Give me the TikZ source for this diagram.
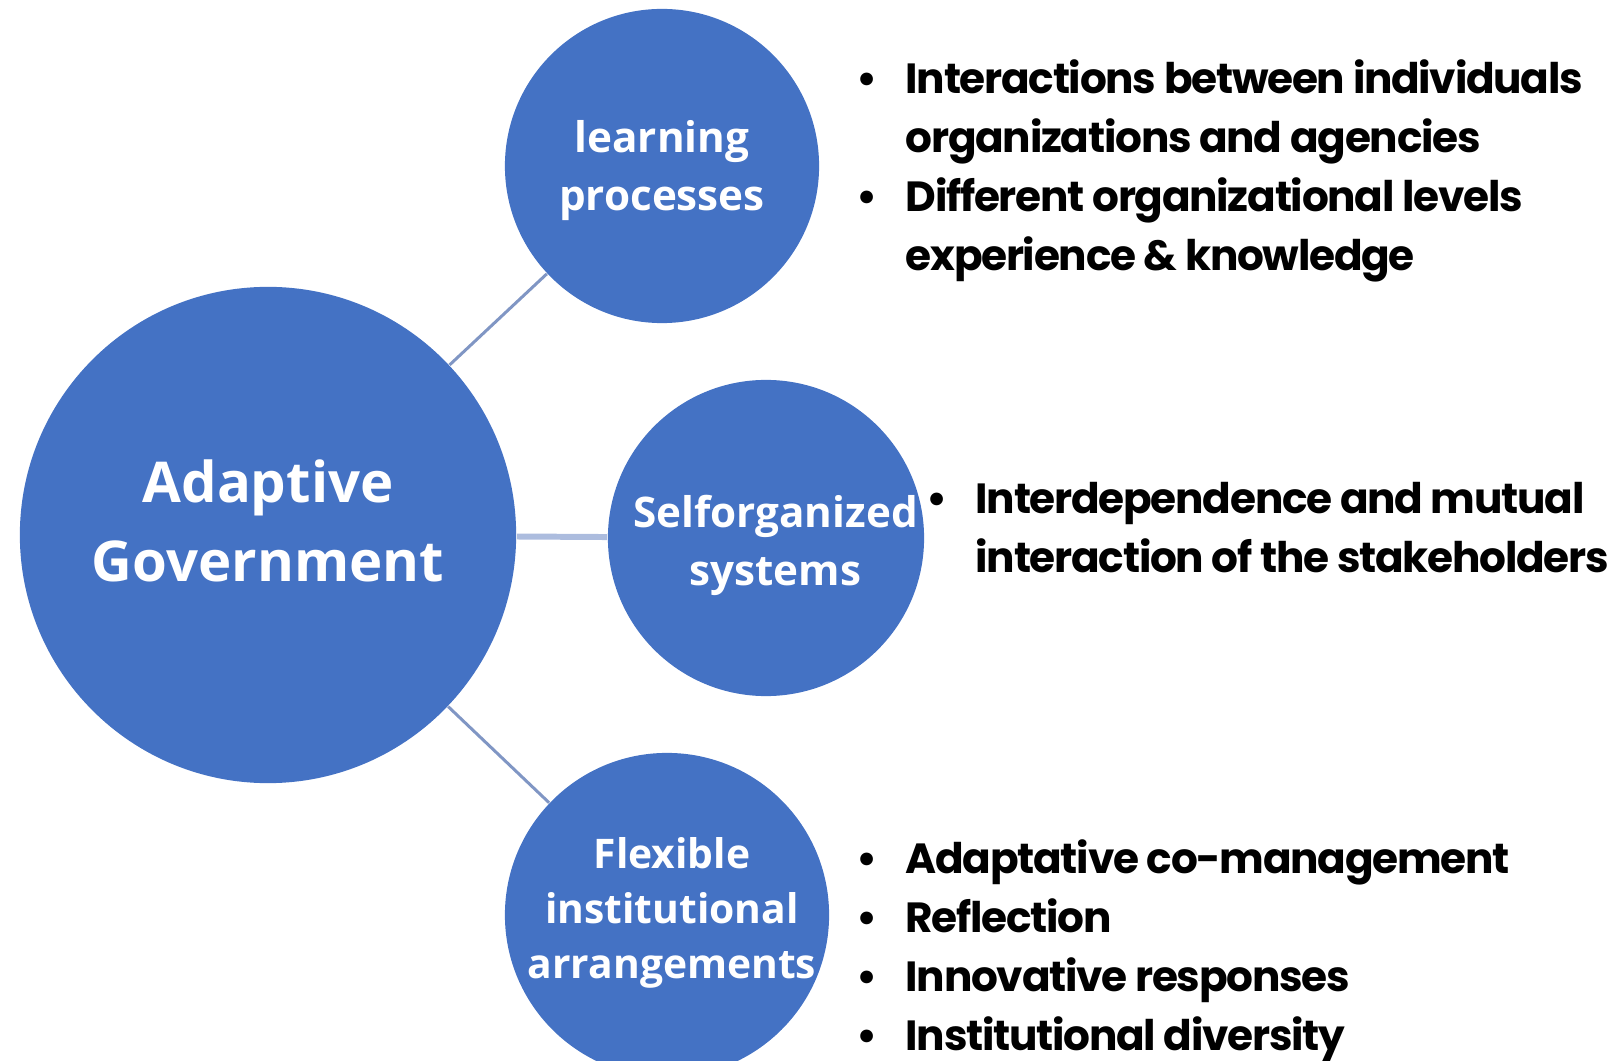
\documentclass[tikz,border=0pt]{standalone}
\usepackage{fontspec}
\newfontfamily\circfont{Open Sans}
\newfontfamily\listfont{Poppins}[LetterSpace=-3]
\usetikzlibrary{positioning}
\definecolor{govblue}{RGB}{68,114,196}
\definecolor{linkblue}{RGB}{128,150,196}
\definecolor{linkpale}{RGB}{172,188,222}
\newcommand{\itm}{\llap{\textbullet\hspace{8pt}}}

\begin{document}
\begin{tikzpicture}[x=0.01cm,y=-0.01cm,
            bubble/.style={circle,fill=govblue,inner sep=0pt},
            bubtext/.style={text=white,align=center,inner sep=0pt,
              font=\circfont\bfseries\fontsize{12}{16.5}\selectfont},
            bigtext/.style={bubtext,font=\circfont\bfseries\fontsize{16}{22.6}\selectfont},
            lst/.style={anchor=west,align=left,inner sep=0pt,font=\listfont\bfseries\fontsize{12}{16.8}\selectfont},
            link/.style={draw=linkblue,line width=0.85pt}
          ]
          \clip (0,0) rectangle (1618,1061);
          %circles
          \node[bubble,minimum size=4.96cm] (adapt) at (268,535) {};
          \node[bubble,minimum size=3.14cm] (learn) at (662,166) {};
          \node[bubble,minimum size=3.16cm] (self) at (766,538) {};
          \node[bubble,minimum size=3.24cm] (flex) at (667,915) {};

          %circle texts
          \node[bigtext] (adapttext) at ([yshift=4pt]adapt.center) {Adaptive\\Government};
          \node[bubtext] (learntext) at ([yshift=-1.4pt]learn.center) {learning\\processes};
          \node[bubtext] (selftext) at ([xshift=2.7pt,yshift=-2.2pt]self.center) {Selforganized\\systems};
          \node[bubtext,font=\circfont\bfseries\fontsize{11.6}{15.6}\selectfont] (flextext)
            at ([xshift=1.4pt,yshift=0.6pt]flex.center) {Flexible\\institutional\\arrangements};

          %links
          \path[link] (adapt) -- (learn);
          \path[link,draw=linkpale,line width=1.7pt] (adapt) -- (self);
          \path[link] (adapt) -- (flex);

          %lists
          \node[lst] (learnlist) at (905,171) {\itm Interactions between individuals\\
            organizations and agencies\\
            \itm Different organizational levels\\
            experience \& knowledge};
          \node[lst] (selflist) at (975,528) {\itm Interdependence and mutual\\
            interaction of the stakeholders};
          \node[lst] (flexlist) at (905,951) {\itm Adaptative co-management\\
            \itm Reflection\\
            \itm Innovative responses\\
            \itm Institutional diversity};
      \end{tikzpicture}
\end{document}
